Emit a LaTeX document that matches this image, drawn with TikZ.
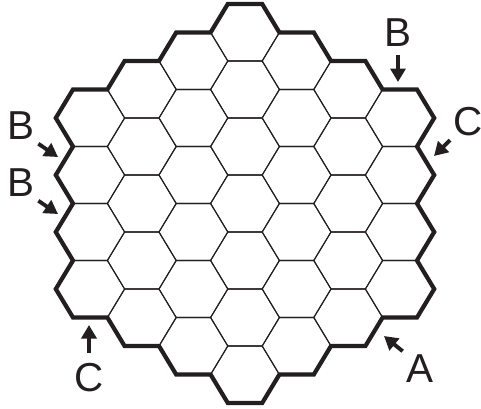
\documentclass[tikz,border=0pt]{standalone}
\usepackage{fontspec}
\setmainfont{Liberation Sans}
\usetikzlibrary{arrows.meta}
\definecolor{ink}{RGB}{35,31,32}
\begin{document}
\begin{tikzpicture}[
      x=0.688cm, y=0.6582cm,
      cell/.style={draw=ink, line width=0.6pt},
      rim/.style={draw=ink, line width=2.4pt, line join=miter},
      letter/.style={inner sep=2pt, text=ink, font=\fontsize{23}{27}\selectfont},
      pointer/.style={draw=ink, line width=2.2pt, -{Triangle[length=0.27cm, width=0.3cm]}}
  ]
    \useasboundingbox (-4.9cm,-4.09cm) rectangle (4.72cm,4.07cm);

    \foreach \q in {-3,...,3} {
      \pgfmathtruncatemacro{\rlo}{max(-3,-3-\q)}
      \pgfmathtruncatemacro{\rhi}{min(3,3-\q)}
      \foreach \r in {\rlo,...,\rhi}
        \draw[cell] ({1.5*\q},{sqrt(3)*(\r+\q/2)}) ++(0:1) -- ++(120:1) -- ++(180:1) -- ++(240:1) -- ++(300:1) -- ++(0:1) -- cycle;
    }
    \draw[rim] (0,{3*sqrt(3)}) ++(120:1)
      \foreach \a in {0,-60,...,-300} {
        -- ++(\a:1) -- ++({\a-60}:1) -- ++(\a:1) -- ++({\a-60}:1) -- ++(\a:1) -- ++({\a-60}:1) -- ++(\a:1)
      } -- cycle;

    \node[letter] (bTop) at (3.06cm,3.41cm) {B};
    \node[letter] (cRight) at (4.47cm,1.63cm) {C};
    \node[letter] (bUpper) at (-4.48cm,1.55cm) {B};
    \node[letter] (bLower) at (-4.48cm,0.41cm) {B};
    \node[letter] (cBottom) at (-3.12cm,-3.49cm) {C};
    \node[letter] (aBottom) at (3.50cm,-3.31cm) {A};

    \coordinate (tipBTop) at (3.06cm,2.43cm);
    \coordinate (tipCRight) at (3.78cm,0.95cm);
    \coordinate (tipBUpper) at (-3.74cm,0.93cm);
    \coordinate (tipBLower) at (-3.74cm,-0.21cm);
    \coordinate (tipCBottom) at (-3.12cm,-2.43cm);
    \coordinate (tipA) at (2.78cm,-2.65cm);

    \draw[pointer, shorten <=0.08cm] (bTop.south) -- (tipBTop);
    \draw[pointer] (cRight.south west) -- (tipCRight);
    \draw[pointer] (bUpper.south east) -- (tipBUpper);
    \draw[pointer] (bLower.south east) -- (tipBLower);
    \draw[pointer, shorten <=0.14cm] (cBottom.north) -- (tipCBottom);
    \draw[pointer] (aBottom.north west) -- (tipA);
  \end{tikzpicture}
\end{document}
